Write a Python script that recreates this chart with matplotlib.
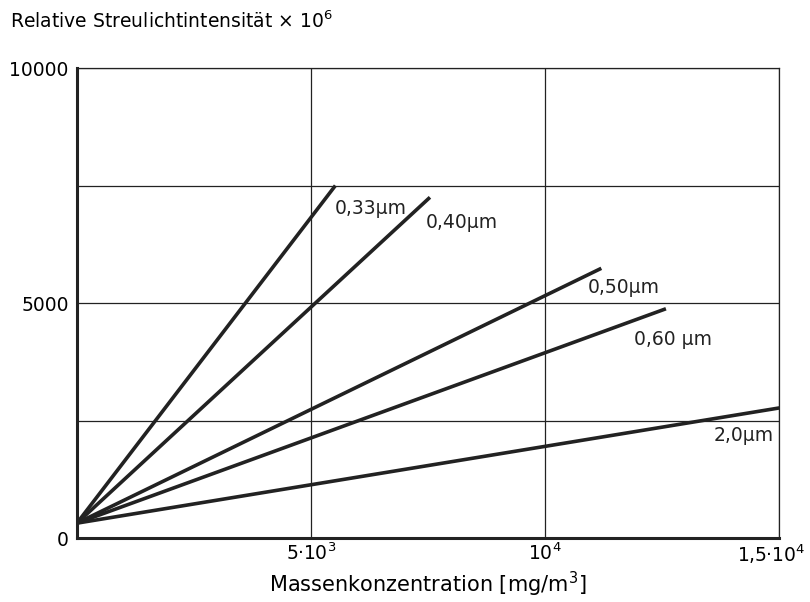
import matplotlib
matplotlib.use("Agg")
from matplotlib import pyplot as plt
from matplotlib import transforms

plt.rcParams['font.family'] = ['DejaVu Sans']

# Partikelgroessen und Geradenenden (Start bei x=0)
sizes = ['0,33µm', '0,40µm', '0,50µm', '0,60 µm', '2,0µm']
y_start = 320
x_end = [5520, 7540, 11200, 12580, 15000]
y_end = [7500, 7250, 5740, 4880, 2770]
# Beschriftungspositionen (Datenkoordinaten)
label_x = [5500, 7450, 10900, 11900, 13600]
label_y = [7020, 6720, 5330, 4230, 2180]

xticks = [5000, 10000, 15000]
xticklabels = ['5·10$^3$', '10$^4$', '1,5·10$^4$']
yticks = [0, 5000, 10000]
ygrid = [2500, 5000, 7500, 10000]

fig = plt.figure(figsize=(8.1, 6.02), dpi=100)
ax = fig.add_axes([0.095, 0.106, 0.867, 0.781])

for yg in ygrid:
    ax.axhline(yg, color='#222222', lw=0.9, zorder=1)
for xg in xticks:
    ax.axvline(xg, color='#222222', lw=0.9, zorder=1)

for i in range(len(sizes)):
    ax.plot([0, x_end[i]], [y_start, y_end[i]], color='#222222', lw=2.6,
            solid_capstyle='butt', zorder=3)
    ax.text(label_x[i], label_y[i], sizes[i], fontsize=13.5, color='#222222',
            ha='left', va='center')

ax.set_xlim(0, 15000)
ax.set_ylim(0, 10000)
ax.set_xticks(xticks)
ax.set_xticklabels(xticklabels, fontsize=13.5)
ax.set_yticks(yticks)
ax.set_yticklabels(['0', '5000', '10000'], fontsize=13.5)
ax.tick_params(length=0, pad=6)
ax.tick_params(axis='x', pad=3)

# letzte Beschriftung etwas nach links
lbl = ax.get_xticklabels()[-1]
lbl.set_transform(lbl.get_transform() + transforms.ScaledTranslation(-6/72, 0, fig.dpi_scale_trans))

for s in ['top', 'right']:
    ax.spines[s].set_linewidth(0.9)
for s in ['left', 'bottom']:
    ax.spines[s].set_linewidth(2.2)
for s in ax.spines.values():
    s.set_color('#222222')

ax.set_xlabel('Massenkonzentration [mg/m$^3$]', fontsize=15, labelpad=3)
fig.text(0.012, 0.965, 'Relative Streulichtintensität × 10$^6$', fontsize=13.5,
         ha='left', va='center')

fig.savefig('out.png', dpi=100)
